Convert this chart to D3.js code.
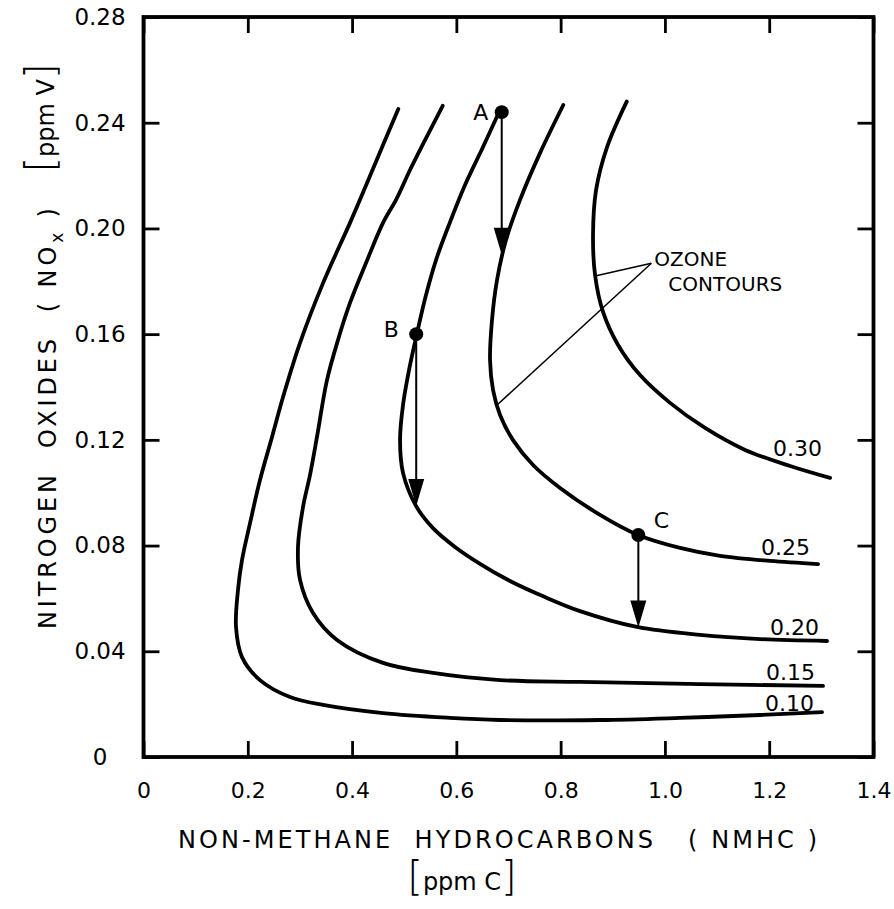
<!DOCTYPE html>
<html>
<head>
<meta charset="utf-8">
<script src="https://cdn.jsdelivr.net/npm/d3@7/dist/d3.min.js"></script>
<style>
body{margin:0;background:#fff;}
svg{display:block;font-family:"DejaVu Sans",sans-serif;}
</style>
</head>
<body>
<svg id="chart" width="894" height="909"></svg>
<script>
// axis ticks
var xTicks = [0, 0.2, 0.4, 0.6, 0.8, 1.0, 1.2, 1.4];
var xTickLabels = ["0", "0.2", "0.4", "0.6", "0.8", "1.0", "1.2", "1.4"];
var yTicks = [0, 0.04, 0.08, 0.12, 0.16, 0.20, 0.24, 0.28];
var yTickLabels = ["0", "0.04", "0.08", "0.12", "0.16", "0.20", "0.24", "0.28"];

// ozone contours, [NMHC ppmC, NOx ppmV]
var levels = ["0.10", "0.15", "0.20", "0.25", "0.30"];
var c010 = [[0.4887,0.2452],[0.4593,0.2316],[0.4287,0.2172],[0.3960,0.2021],[0.3443,0.1793],[0.3002,0.1567],
            [0.2676,0.1362],[0.2465,0.1211],[0.2234,0.1048],[0.2043,0.0885],[0.1889,0.0745],[0.1812,0.0632],
            [0.1774,0.0492],[0.1889,0.0378],[0.2234,0.0291],[0.2810,0.0227],[0.3443,0.0197],[0.4593,0.0166],
            [0.5878,0.0148],[0.6837,0.0140],[0.8755,0.0140],[1.0290,0.0148],[1.1824,0.0159],[1.3013,0.0170]];
var c015 = [[0.5738,0.2464],[0.5399,0.2334],[0.5111,0.2221],[0.4843,0.2108],[0.4593,0.2021],[0.4267,0.1869],
            [0.3960,0.1718],[0.3730,0.1578],[0.3519,0.1426],[0.3327,0.1211],[0.3193,0.1067],[0.3059,0.0946],
            [0.2963,0.0795],[0.3002,0.0670],[0.3251,0.0545],[0.3711,0.0443],[0.4593,0.0356],[0.5552,0.0318],
            [0.6837,0.0291],[0.8372,0.0284],[1.0673,0.0276],[1.3032,0.0269]];
var c020 = [[0.6837,0.2448],[0.6511,0.2308],[0.6166,0.2164],[0.5879,0.2024],[0.5630,0.1892],[0.5418,0.1748],
            [0.5246,0.1604],[0.5092,0.1464],[0.4977,0.1332],[0.4920,0.1199],[0.4977,0.1075],[0.5226,0.0950],
            [0.5552,0.0866],[0.5974,0.0795],[0.6454,0.0731],[0.7029,0.0666],[0.7700,0.0605],[0.8372,0.0552],
            [0.9465,0.0492],[1.0673,0.0462],[1.1824,0.0446],[1.3109,0.0439]];
var c025 = [[0.8051,0.2467],[0.7604,0.2285],[0.7221,0.2108],[0.6952,0.1956],[0.6780,0.1805],[0.6684,0.1654],
            [0.6646,0.1502],[0.6703,0.1389],[0.6838,0.1294],[0.7087,0.1199],[0.7471,0.1105],[0.7989,0.1018],
            [0.8699,0.0923],[0.9485,0.0840],[1.0290,0.0791],[1.1057,0.0761],[1.2016,0.0742],[1.2937,0.0730]];
var c030 = [[0.9267,0.2480],[0.8890,0.2308],[0.8679,0.2145],[0.8621,0.1975],[0.8660,0.1824],[0.8813,0.1684],
            [0.9101,0.1559],[0.9523,0.1445],[1.0098,0.1340],[1.0770,0.1245],[1.1537,0.1162],[1.2400,0.1101],
            [1.3167,0.1056]];
var contours = [c010, c015, c020, c025, c030];

// example points and the NOx cut from each
var pointNames = ["A", "B", "C"];
var pointX = [0.687, 0.523, 0.949];
var pointY = [0.244, 0.160, 0.084];
var arrowToY = [0.190, 0.095, 0.049];

var svg = d3.select("#chart");
var x = d3.scaleLinear().domain([0, 1.4]).range([143.5, 873.5]);
var y = d3.scaleLinear().domain([0, 0.28]).range([757, 17]);

// axes, ticks pointing inward
function styleAxis(g){
	g.attr("font-family", null).attr("font-size", 22);
	g.select(".domain").remove();
	g.selectAll(".tick line").attr("stroke", "#000").attr("stroke-width", 2.8);
	g.selectAll(".tick text").attr("fill", "#000");
}
svg.append("g")
	.attr("transform", "translate(0," + y(0) + ")")
	.call(d3.axisBottom(x).tickValues(xTicks).tickSizeInner(-16).tickSizeOuter(0).tickPadding(25)
		.tickFormat(function(d, i){ return xTickLabels[i]; }))
	.call(styleAxis);
svg.append("g")
	.attr("transform", "translate(0," + y(0.28) + ")")
	.call(d3.axisTop(x).tickValues(xTicks).tickSizeInner(-16).tickSizeOuter(0).tickFormat(""))
	.call(styleAxis);
var yAxisG = svg.append("g")
	.attr("transform", "translate(" + x(0) + ",0)")
	.call(d3.axisLeft(y).tickValues(yTicks).tickSizeInner(-16).tickSizeOuter(0)
		.tickFormat(function(d, i){ return yTickLabels[i]; }))
	.call(styleAxis);
yAxisG.attr("font-size", 23);
yAxisG.selectAll(".tick text").attr("text-anchor", "middle").attr("x", 100 - x(0));
svg.append("g")
	.attr("transform", "translate(" + x(1.4) + ",0)")
	.call(d3.axisRight(y).tickValues(yTicks).tickSizeInner(-16).tickSizeOuter(0).tickFormat(""))
	.call(styleAxis);

// frame
svg.append("rect")
	.attr("x", x(0)).attr("y", y(0.28))
	.attr("width", x(1.4) - x(0)).attr("height", y(0) - y(0.28))
	.attr("fill", "none").attr("stroke", "#000").attr("stroke-width", 3.8);

// contour lines
var line = d3.line()
	.x(function(d){ return x(d[0]); })
	.y(function(d){ return y(d[1]); })
	.curve(d3.curveCatmullRom.alpha(0.5));

svg.selectAll("path.contour")
	.data(contours)
	.enter().append("path")
	.attr("class", "contour")
	.attr("d", line)
	.attr("fill", "none")
	.attr("stroke", "#000")
	.attr("stroke-width", 3.8)
	.attr("stroke-linecap", "round");

// contour labels just above the right end of each curve
var labelLift = [1, 6, 6, 9, 22];
svg.selectAll("text.level")
	.data(contours)
	.enter().append("text")
	.attr("class", "level")
	.attr("x", function(d){ return x(d[d.length - 1][0]) - 8; })
	.attr("y", function(d, i){ return y(d[d.length - 1][1]) - labelLift[i]; })
	.attr("text-anchor", "end")
	.attr("font-size", 22)
	.text(function(d, i){ return levels[i]; });

// arrows from A, B, C
var arrows = svg.selectAll("g.arrow")
	.data(pointNames)
	.enter().append("g")
	.attr("class", "arrow");
arrows.append("line")
	.attr("x1", function(d, i){ return x(pointX[i]); })
	.attr("x2", function(d, i){ return x(pointX[i]); })
	.attr("y1", function(d, i){ return y(pointY[i]); })
	.attr("y2", function(d, i){ return y(arrowToY[i]) - 20; })
	.attr("stroke", "#000").attr("stroke-width", 2);
arrows.append("path")
	.attr("d", function(d, i){
		var px = x(pointX[i]), py = y(arrowToY[i]);
		return "M" + px + "," + py + "L" + (px - 8) + "," + (py - 27) + "L" + (px + 8) + "," + (py - 27) + "Z";
	})
	.attr("fill", "#000");
arrows.append("circle")
	.attr("cx", function(d, i){ return x(pointX[i]); })
	.attr("cy", function(d, i){ return y(pointY[i]); })
	.attr("r", 7)
	.attr("fill", "#000");
var letterOffset = [[-21, 8], [-25, 3], [23, -7]];
arrows.append("text")
	.attr("x", function(d, i){ return x(pointX[i]) + letterOffset[i][0]; })
	.attr("y", function(d, i){ return y(pointY[i]) + letterOffset[i][1]; })
	.attr("text-anchor", "middle")
	.attr("font-size", 22)
	.text(function(d){ return d; });

// "ozone contours" callout
var vx = x(0.974), vy = y(0.1868);
svg.append("line").attr("x1", vx).attr("y1", vy).attr("x2", x(0.866)).attr("y2", y(0.182))
	.attr("stroke", "#000").attr("stroke-width", 1.5);
svg.append("line").attr("x1", vx).attr("y1", vy).attr("x2", x(0.677)).attr("y2", y(0.133))
	.attr("stroke", "#000").attr("stroke-width", 1.5);
svg.append("text").attr("x", vx + 3).attr("y", vy + 3).attr("font-size", 20).text("OZONE");
svg.append("text").attr("x", vx + 17).attr("y", vy + 28).attr("font-size", 20).text("CONTOURS");

// x axis title
svg.append("text")
	.attr("x", 178).attr("y", 848)
	.attr("font-size", 24)
	.attr("textLength", 639).attr("lengthAdjust", "spacing")
	.style("white-space", "pre")
	.text("NON-METHANE  HYDROCARBONS   ( NMHC )");
var xUnit = svg.append("text").attr("x", 462).attr("y", 890).attr("text-anchor", "middle").attr("font-size", 24);
xUnit.append("tspan").attr("font-size", 40).attr("font-weight", 200).text("[");
xUnit.append("tspan").text("ppm C");
xUnit.append("tspan").attr("font-size", 40).attr("font-weight", 200).text("]");

// y axis title
var yTitle = svg.append("text")
	.attr("transform", "translate(56,629) rotate(-90)")
	.attr("font-size", 24)
	.attr("textLength", 421).attr("lengthAdjust", "spacing")
	.style("white-space", "pre");
yTitle.append("tspan").text("NITROGEN  OXIDES  ( NO");
yTitle.append("tspan").attr("font-size", 17).attr("dy", 7).text("x");
yTitle.append("tspan").attr("dy", -7).text(" )");
var yUnit = svg.append("text")
	.attr("transform", "translate(54,118) rotate(-90)")
	.attr("text-anchor", "middle")
	.attr("font-size", 24);
yUnit.append("tspan").attr("font-size", 40).attr("font-weight", 200).text("[");
yUnit.append("tspan").text("ppm V");
yUnit.append("tspan").attr("font-size", 40).attr("font-weight", 200).text("]");
</script>
</body>
</html>
